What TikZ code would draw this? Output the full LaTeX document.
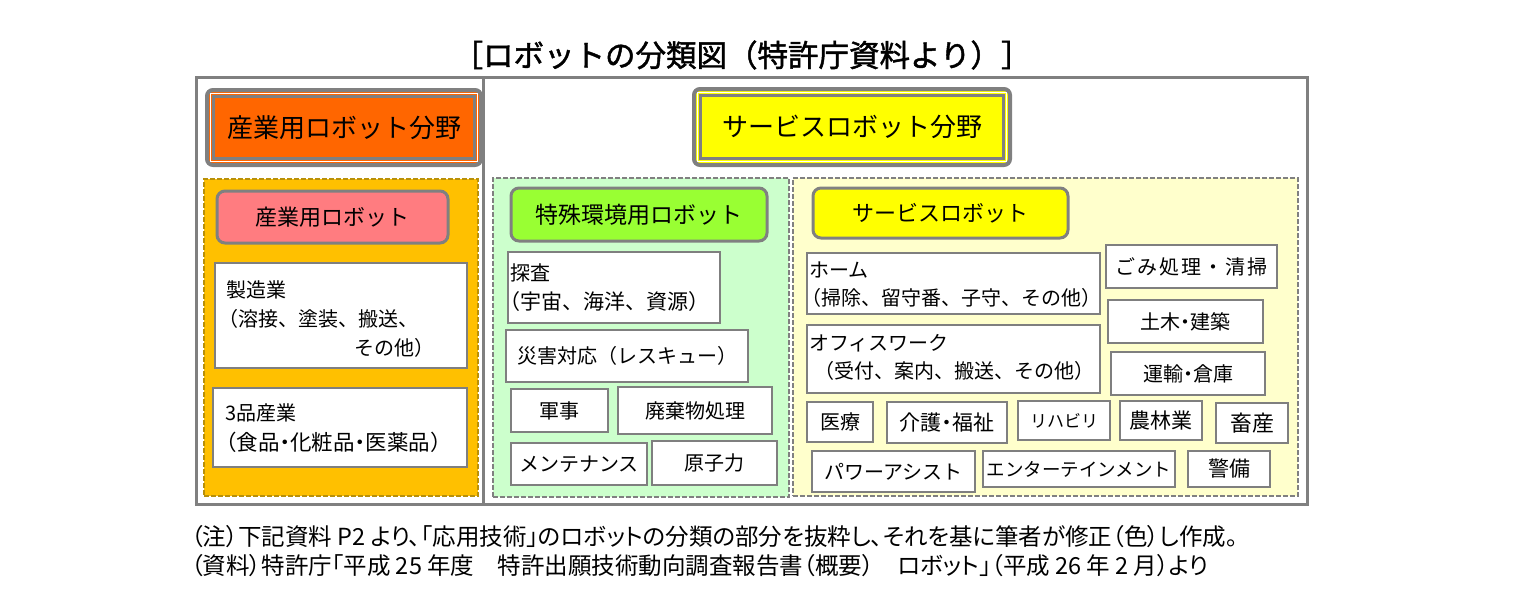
\documentclass[tikz,border=0pt]{standalone}
\usepackage{fontspec}
\setmainfont{Noto Sans CJK JP}
\newfontfamily\jpp{Noto Sans CJK JP}[RawFeature=+palt]
\newfontfamily\jpt{Noto Sans CJK JP}[FakeBold=1.5]
\newfontfamily\jpls{Noto Sans CJK JP}[LetterSpace=10]
\definecolor{frameg}{HTML}{808080}
\definecolor{bordg}{HTML}{7F7F7F}
\definecolor{orng}{HTML}{FF6600}
\definecolor{gold}{HTML}{FFC000}
\definecolor{golddash}{HTML}{B8900A}
\definecolor{pinkc}{HTML}{FF7C80}
\definecolor{lgreen}{HTML}{CCFFCC}
\definecolor{greenc}{HTML}{99FF33}
\definecolor{lyellow}{HTML}{FFFFCC}
\definecolor{yellowc}{HTML}{FFFF00}
\newcommand{\fs}[1]{\fontsize{#1}{#1}\selectfont}
\newcommand{\nd}{{\jpp ・}}
\begin{document}
\begin{tikzpicture}[x=1pt,y=-1pt,
  every node/.style={inner sep=0pt, outer sep=0pt},
  framebox/.style={draw=frameg, line width=3pt},
  hdrouter/.style={draw=frameg, line width=4pt, rounded corners=6pt},
  hdrwhite/.style={draw=white, line width=0.8pt},
  hdrinner/.style={draw=frameg, line width=3pt},
  panel/.style={line width=1.2pt, dash pattern=on 5pt off 2pt},
  subhdr/.style={draw=frameg, line width=3pt, rounded corners=8pt, font=\fs{22}},
  wbox/.style={draw=bordg, line width=2pt, fill=white, font=\fs{20}},
  ltxt/.style={anchor=west, font=\fs{20}},
  foot/.style={anchor=west, font=\jpp\fs{23.5}}
]
\useasboundingbox[fill=white] (0,0) rectangle (1524,597);

% title
\node[font=\jpt\fs{30.5}] (title) at (742,55) {［ロボットの分類図（特許庁資料より）］};

% frames
\node[framebox, minimum width=287pt, minimum height=427pt] (frameL) at (339.5,290.5) {};
\node[framebox, minimum width=824pt, minimum height=427pt] (frameR) at (895,290.5) {};

% orange header
\node[hdrouter, fill=orng, minimum width=274pt, minimum height=75pt] (hdrL) at (344,127.5) {};
\node[hdrwhite, minimum width=267pt, minimum height=68pt] (hdrLw) at (hdrL.center) {};
\node[hdrinner, minimum width=261pt, minimum height=62pt, font=\fs{26}] (hdrLt) at (hdrL.center) {産業用ロボット分野};

% yellow header
\node[hdrouter, fill=yellowc, minimum width=316pt, minimum height=76pt] (hdrR) at (852,127) {};
\node[hdrwhite, minimum width=309pt, minimum height=69pt] (hdrRw) at (hdrR.center) {};
\node[hdrinner, minimum width=303pt, minimum height=63pt, font=\fs{26}] (hdrRt) at (hdrR.center) {サービスロボット分野};

% panels
\node[panel, draw=golddash, fill=gold, minimum width=274pt, minimum height=317pt] (panG) at (341,337.5) {};
\node[panel, draw=frameg, fill=lgreen, minimum width=296pt, minimum height=319pt] (panN) at (641,337.5) {};
\node[panel, draw=frameg, fill=lyellow, minimum width=505pt, minimum height=318pt] (panY) at (1045.5,337) {};

% sub headers
\node[subhdr, fill=pinkc, minimum width=231pt, minimum height=52pt] (sangyo) at (332.5,217) {産業用ロボット};
\node[subhdr, fill=greenc, minimum width=256pt, minimum height=53pt, font=\fs{23}] (tokushu) at (639,214.5) {特殊環境用ロボット};
\node[subhdr, fill=yellowc, minimum width=255pt, minimum height=50pt] (service) at (940.5,213) {サービスロボット};

% industrial
\node[wbox, minimum width=252pt, minimum height=105pt] (seizo) at (341,315.5) {};
\node[ltxt] (seizo1) at (226,290) {製造業};
\node[ltxt] (seizo2) at (218,319) {（溶接、塗装、搬送、};
\node[ltxt] (seizo3) at (354,348) {その他）};
\node[wbox, minimum width=254pt, minimum height=79pt] (sanpin) at (340,427.5) {};
\node[ltxt] (sanpin1) at (225,413) {3品産業};
\node[ltxt, font=\fs{21.5}] (sanpin2) at (215,442) {（食品\nd 化粧品\nd 医薬品）};

% special environment
\node[wbox, minimum width=212pt, minimum height=71pt] (tansa) at (614,287.5) {};
\node[ltxt] (tansa1) at (510,273) {探査};
\node[ltxt, font=\fs{21}] (tansa2) at (499,302) {（宇宙、海洋、資源）};
\node[wbox, minimum width=242pt, minimum height=52pt] (saigai) at (627,356) {災害対応（レスキュー）};
\node[wbox, minimum width=97pt, minimum height=43pt] (gunji) at (559.5,410.5) {軍事};
\node[wbox, minimum width=154pt, minimum height=47pt] (haiki) at (695,410.5) {廃棄物処理};
\node[wbox, minimum width=136pt, minimum height=42pt] (mente) at (579,464) {メンテナンス};
\node[wbox, minimum width=125pt, minimum height=44pt] (genshi) at (714.5,463) {原子力};

% service
\node[wbox, minimum width=293pt, minimum height=61pt] (home) at (953.5,283.5) {};
\node[ltxt] (home1) at (809,270) {ホーム};
\node[ltxt] (home2) at (801,298) {（掃除、留守番、子守、その他）};
\node[wbox, minimum width=171pt, minimum height=43pt, font=\jpls\fs{20}] (gomi) at (1191.5,266.5) {ごみ処理・清掃};
\node[wbox, minimum width=155pt, minimum height=43pt] (doboku) at (1185.5,321.5) {土木\nd 建築};
\node[wbox, minimum width=293pt, minimum height=68pt] (office) at (953.5,359) {};
\node[ltxt] (office1) at (809,343) {オフィスワーク};
\node[ltxt] (office2) at (814,371) {（受付、案内、搬送、その他）};
\node[wbox, minimum width=154pt, minimum height=43pt] (unyu) at (1188,373.5) {運輸\nd 倉庫};
\node[wbox, minimum width=66pt, minimum height=40pt] (iryo) at (840,422) {医療};
\node[wbox, minimum width=120pt, minimum height=41pt, font=\fs{21}] (kaigo) at (947,422.5) {介護\nd 福祉};
\node[wbox, minimum width=92pt, minimum height=39pt, font=\fs{17}] (riha) at (1064,420.5) {リハビリ};
\node[wbox, minimum width=82pt, minimum height=39pt, font=\fs{21}] (norin) at (1161,420.5) {農林業};
\node[wbox, minimum width=72pt, minimum height=40pt, font=\fs{22}] (chiku) at (1252,423) {畜産};
\node[wbox, minimum width=163pt, minimum height=41pt] (power) at (893.5,471.5) {パワーアシスト};
\node[wbox, minimum width=192pt, minimum height=36pt, font=\fs{18.5}] (enter) at (1079,469) {エンターテインメント};
\node[wbox, minimum width=82pt, minimum height=36pt, font=\fs{21}] (keibi) at (1229,469) {警備};

% footnotes
\node[foot] (note1) at (191,537) {（注）下記資料 P2 より、「応用技術」のロボットの分類の部分を抜粋し、それを基に筆者が修正（色）し作成。};
\node[foot] (note2) at (191,566) {（資料）特許庁「平成 25 年度　特許出願技術動向調査報告書（概要）　ロボット」（平成 26 年 2 月）より};
\end{tikzpicture}
\end{document}
